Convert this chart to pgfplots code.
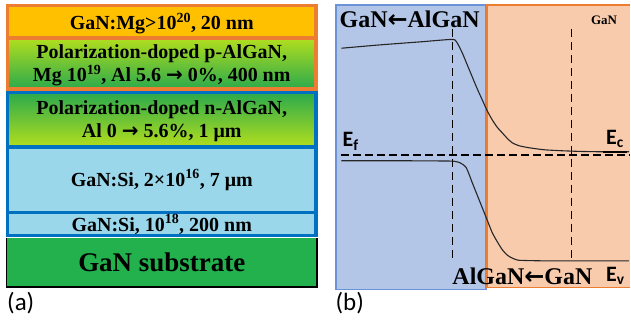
\documentclass[border=0pt]{standalone}
\usepackage{pgfplots}
\pgfplotsset{compat=1.18}
\usepackage{fontspec}
\setmainfont{Liberation Serif}
\newfontfamily\calib{Carlito}
\newfontfamily\dejavu{DejaVu Sans}
\newcommand{\rarr}{{\dejavu\bfseries →}}
\newcommand{\larr}{{\dejavu\bfseries ←}}
\definecolor{topyel}{HTML}{FFC000}
\definecolor{orbord}{HTML}{ED7D31}
\definecolor{blbord}{HTML}{0070C0}
\definecolor{ltblue}{HTML}{9AD7EA}
\definecolor{ygreen}{HTML}{B2DE1E}
\definecolor{dgreen}{HTML}{2CAA4C}
\definecolor{subgreen}{HTML}{22B14C}
\definecolor{bfill}{HTML}{B4C6E7}
\definecolor{bbord}{HTML}{6A93D8}
\definecolor{ofill}{HTML}{F8CBAD}
\begin{document}
\begin{tikzpicture}
\begin{axis}[width=631bp,height=326bp,scale only axis,
  xmin=0,xmax=631,ymin=0,ymax=326,y dir=reverse,
  hide axis,clip=false,no markers]
\path (axis cs:0,0) rectangle (axis cs:631,326);
% ---------- panel (a) ----------
\addplot[draw=none,fill=topyel] coordinates {(7,7) (316,7) (316,37) (7,37)} -- cycle;
\addplot[draw=none,top color=ygreen,bottom color=dgreen,shading=axis] coordinates {(7,38) (316,38) (316,89) (7,89)} -- cycle;
\addplot[orbord,line width=3.5bp] coordinates {(7.5,5.5) (316.5,5.5) (316.5,89) (7.5,89)} -- cycle;
\addplot[orbord,line width=3.5bp] coordinates {(7.5,38) (316.5,38)};
\addplot[draw=none,top color=dgreen,bottom color=ygreen,shading=axis] coordinates {(7,93) (316,93) (316,147) (7,147)} -- cycle;
\addplot[draw=none,fill=ltblue] coordinates {(7,147) (316,147) (316,236) (7,236)} -- cycle;
\addplot[blbord,line width=3.5bp] coordinates {(7.5,92.5) (316.5,92.5) (316.5,236) (7.5,236)} -- cycle;
\addplot[blbord,line width=3.5bp] coordinates {(7.5,147) (316.5,147)};
\addplot[blbord,line width=3.5bp] coordinates {(7.5,213) (316.5,213)};
\addplot[draw=none,fill=subgreen] coordinates {(7,238) (317,238) (317,287) (7,287)} -- cycle;
\addplot[black,line width=1.5bp] coordinates {(6.5,238) (6.5,287.5) (317.5,287.5) (317.5,238)};
\node[anchor=base,font=\fontsize{20bp}{24bp}\selectfont\bfseries] at (axis cs:162,30) {GaN:Mg>10\textsuperscript{20}, 20 nm};
\node[anchor=base,font=\fontsize{20bp}{24bp}\selectfont\bfseries] at (axis cs:162,58.5) {Polarization-doped p-AlGaN,};
\node[anchor=base,font=\fontsize{20bp}{24bp}\selectfont\bfseries] at (axis cs:162,82) {Mg 10\textsuperscript{19}, Al 5.6 \rarr{} 0\%, 400 nm};
\node[anchor=base,font=\fontsize{20bp}{24bp}\selectfont\bfseries] at (axis cs:162,115) {Polarization-doped n-AlGaN,};
\node[anchor=base,font=\fontsize{20bp}{24bp}\selectfont\bfseries] at (axis cs:162,138) {Al 0 \rarr{} 5.6\%, 1 μm};
\node[anchor=base,font=\fontsize{20bp}{24bp}\selectfont\bfseries] at (axis cs:162,186.7) {GaN:Si, 2×10\textsuperscript{16}, 7 μm};
\node[anchor=base,font=\fontsize{20bp}{24bp}\selectfont\bfseries] at (axis cs:162,231.7) {GaN:Si, 10\textsuperscript{18}, 200 nm};
\node[anchor=base,font=\fontsize{27bp}{30bp}\selectfont\bfseries] at (axis cs:162,271.7) {GaN substrate};
\node[anchor=base west,inner sep=0pt,font=\fontsize{25bp}{28bp}\selectfont\calib] at (axis cs:7,311) {(a)};
% ---------- panel (b) ----------
\addplot[draw=none,fill=bfill] coordinates {(336,5) (487,5) (487,290) (336,290)} -- cycle;
\addplot[bbord,line width=1.5bp] coordinates {(336.5,5) (487,5) (487,290) (336.5,290)} -- cycle;
\addplot[draw=none,fill=ofill] coordinates {(488,5) (631,5) (631,288) (488,288)} -- cycle;
\addplot[orbord,line width=1.5bp] coordinates {(631,5) (488,5) (488,288) (631,288)};
% vertical dashed lines
\addplot[black,line width=0.9bp,dash pattern=on 8bp off 5bp] coordinates {(453.3,29) (453.3,262)};
\addplot[black,line width=0.9bp,dash pattern=on 8bp off 5bp] coordinates {(572.7,29) (572.7,262)};
% Fermi level
\addplot[black,line width=2bp,dash pattern=on 8bp off 4bp] coordinates {(342,155) (631,155)};
% Ec
\addplot[black!85,line width=1.1bp,smooth,tension=0.4] coordinates {(342,48.3) (380,45) (420,42) (452,39.5) (457,41.5) (463,53) (468,65) (473,77) (478,89) (483,100) (488,111) (493,120) (498,127.5) (503,133) (508,138.5) (513,143) (520,146) (530,148) (545,150) (563,151) (583,151.7) (603,152) (630,152)};
\addplot[black,line width=2.2bp] coordinates {(604,152) (628,152)};
% Ev
\addplot[black!85,line width=1.1bp,smooth,tension=0.4] coordinates {(342,161) (400,161) (450,161.3) (456,161.8) (460,162.7) (464,165) (467,168) (470,175) (473,183) (478,195.5) (483,208) (488,220.5) (493,233) (498,242) (503,250) (508,255.5) (512,258) (516,259.7) (520,260.7) (540,261.2) (563,261.3) (630,261.3)};
\node[anchor=base west,inner sep=0pt,font=\fontsize{24bp}{28bp}\selectfont\bfseries] at (axis cs:340,28) {GaN\larr{}AlGaN};
\node[anchor=base,inner sep=0pt,font=\fontsize{13bp}{15bp}\selectfont\bfseries] at (axis cs:605,25) {GaN};
\node[anchor=base west,inner sep=0pt,font=\fontsize{24bp}{28bp}\selectfont\bfseries] at (axis cs:453,285) {AlGaN\larr{}GaN};
\node[anchor=base west,inner sep=0pt,font=\fontsize{22bp}{24bp}\selectfont\calib\bfseries] at (axis cs:343,146.7) {E\textsubscript{f}};
\node[anchor=base west,inner sep=0pt,font=\fontsize{22bp}{24bp}\selectfont\calib\bfseries] at (axis cs:607,145) {E\textsubscript{c}};
\node[anchor=base west,inner sep=0pt,font=\fontsize{22bp}{24bp}\selectfont\calib\bfseries] at (axis cs:607,282) {E\textsubscript{v}};
\node[anchor=base west,inner sep=0pt,font=\fontsize{25bp}{28bp}\selectfont\calib] at (axis cs:336,311) {(b)};
\end{axis}
\end{tikzpicture}
\end{document}
